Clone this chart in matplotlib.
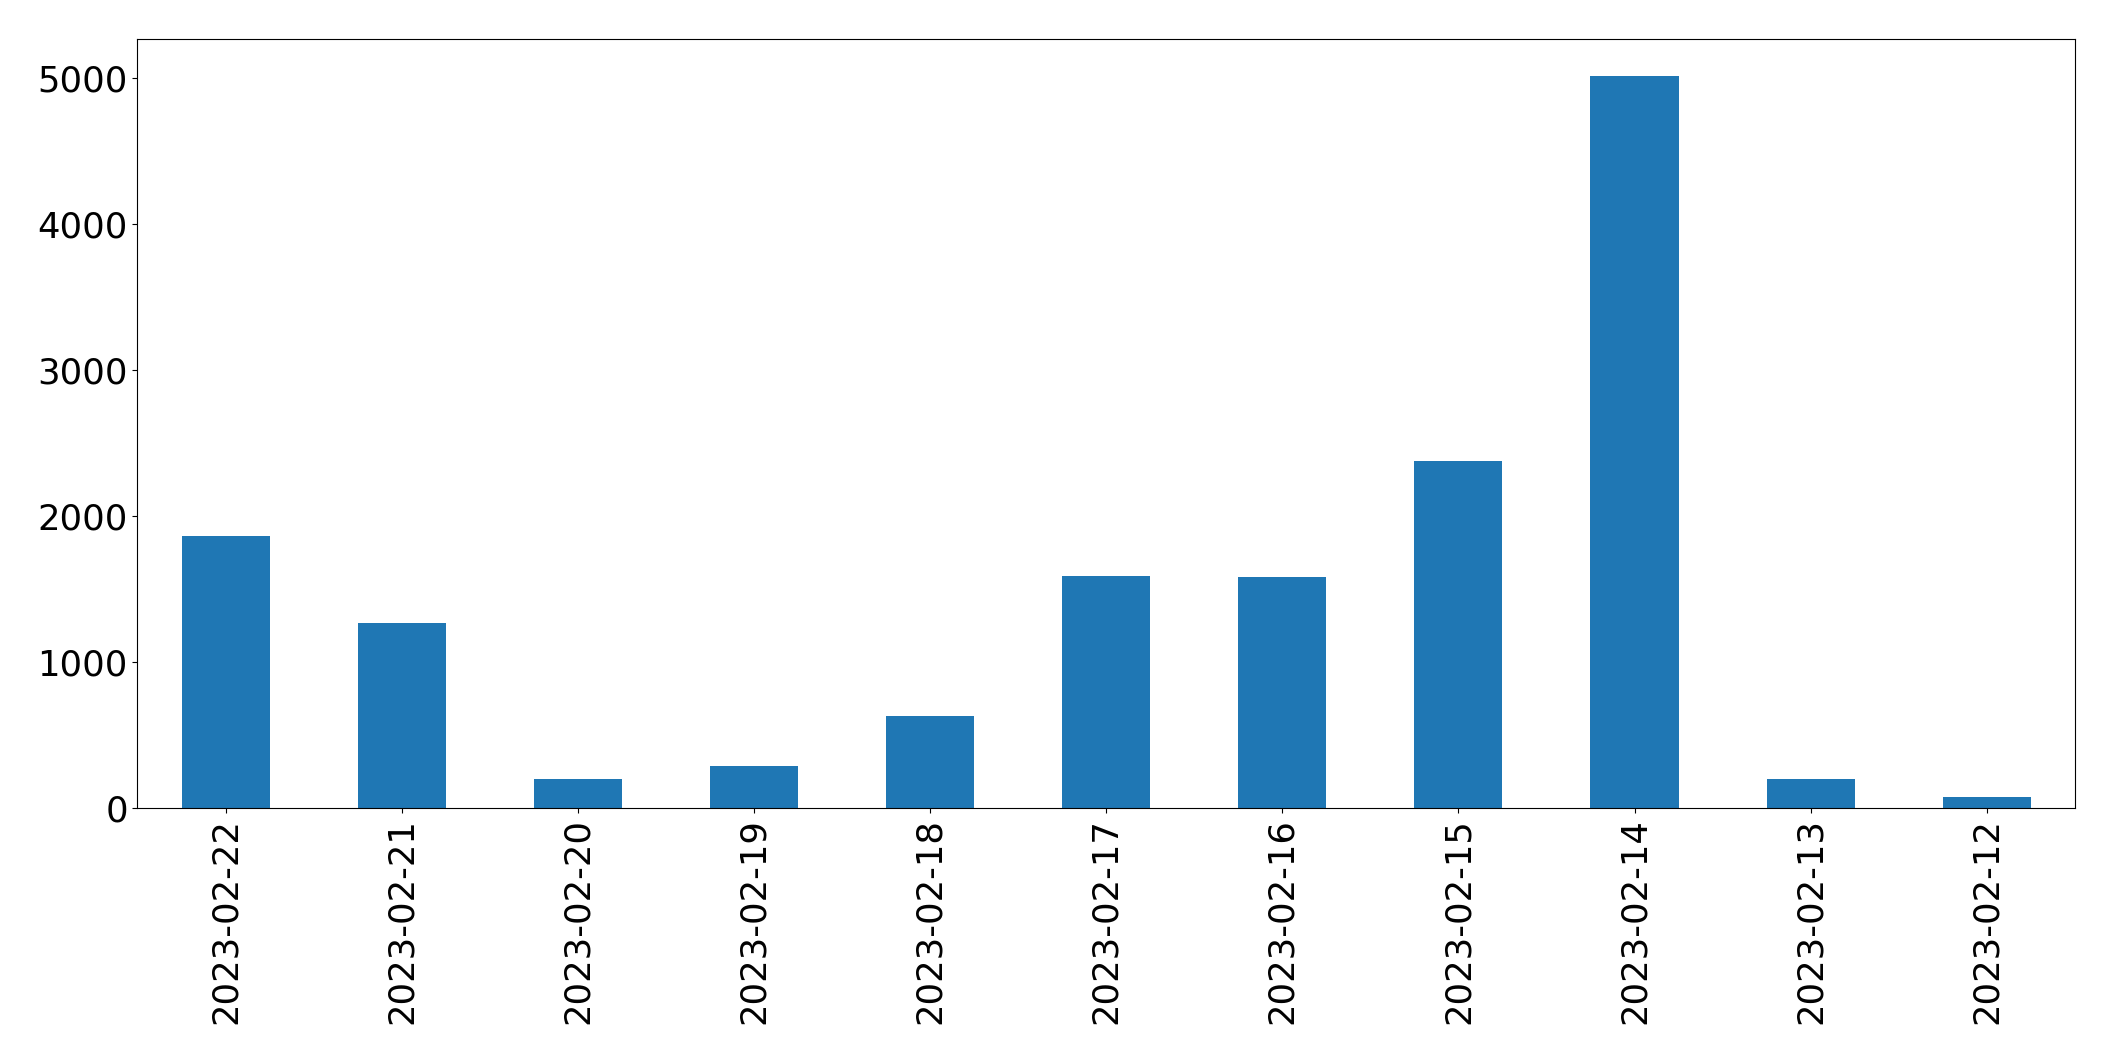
import matplotlib
matplotlib.use("Agg")
import matplotlib.pyplot as plt
import numpy as np

# Daily counts, newest first
dates = ['2023-02-22', '2023-02-21', '2023-02-20', '2023-02-19', '2023-02-18',
         '2023-02-17', '2023-02-16', '2023-02-15', '2023-02-14', '2023-02-13',
         '2023-02-12']
counts = [1862, 1270, 200, 289, 630, 1592, 1585, 2378, 5013, 203, 80]

fig, ax = plt.subplots(figsize=(21.15, 10.61), dpi=100)
x = np.arange(len(dates))
ax.bar(x, counts, width=0.5, color='#1f77b4')
ax.set_xlim(-0.5, len(dates) - 0.5)
ax.set_xticks(x)
ax.set_xticklabels(dates, rotation=90)
ax.tick_params(axis='both', labelsize=25.5)

plt.subplots_adjust(left=0.065, right=0.981, top=0.963, bottom=0.238)
plt.savefig('out.png', dpi=100)
